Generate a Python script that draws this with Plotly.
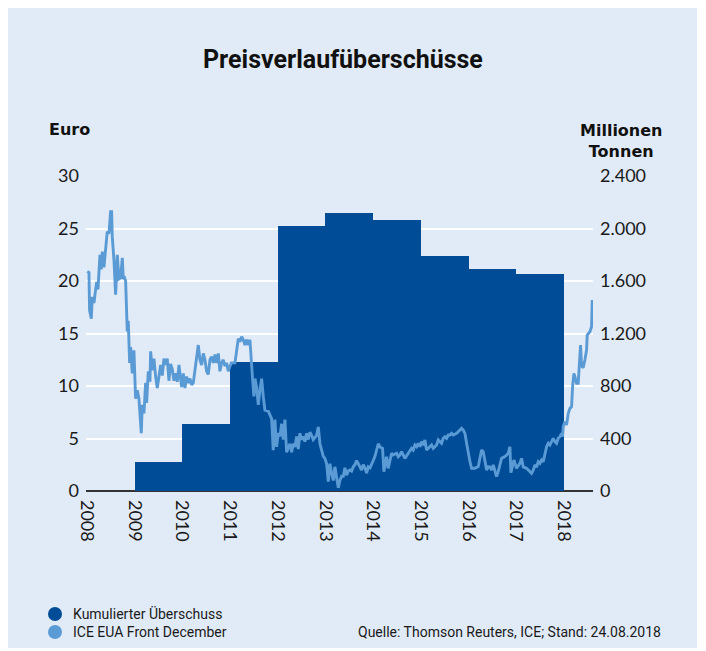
import plotly.graph_objects as go

# ---------------- data ----------------
bar_years = [2009, 2010, 2011, 2012, 2013, 2014, 2015, 2016, 2017]
bar_values = [220, 510, 980, 2020, 2120, 2065, 1790, 1690, 1655]  # Mio. t

price_t = [
    2008.007, 2008.042, 2008.055, 2008.091, 2008.112, 2008.147, 2008.182, 2008.203, 2008.231, 2008.252,
    2008.273, 2008.300, 2008.321, 2008.356, 2008.391, 2008.426, 2008.461, 2008.496, 2008.517, 2008.531,
    2008.566, 2008.601, 2008.636, 2008.671, 2008.706, 2008.741, 2008.762, 2008.790, 2008.811, 2008.832,
    2008.845, 2008.866, 2008.895, 2008.916, 2008.950, 2008.985, 2009.020, 2009.055, 2009.090, 2009.139,
    2009.160, 2009.195, 2009.230, 2009.251, 2009.286, 2009.321, 2009.335, 2009.370, 2009.405, 2009.440,
    2009.474, 2009.510, 2009.544, 2009.580, 2009.614, 2009.649, 2009.684, 2009.719, 2009.754, 2009.789,
    2009.824, 2009.859, 2009.894, 2009.929, 2009.950, 2009.985, 2010.020, 2010.055, 2010.090, 2010.125,
    2010.160, 2010.195, 2010.229, 2010.264, 2010.299, 2010.334, 2010.369, 2010.404, 2010.439, 2010.474,
    2010.509, 2010.544, 2010.579, 2010.614, 2010.649, 2010.684, 2010.719, 2010.754, 2010.788, 2010.823,
    2010.858, 2010.893, 2010.928, 2010.963, 2010.998, 2011.033, 2011.103, 2011.138, 2011.173, 2011.208,
    2011.243, 2011.278, 2011.313, 2011.347, 2011.382, 2011.417, 2011.438, 2011.473, 2011.501, 2011.522,
    2011.557, 2011.592, 2011.627, 2011.662, 2011.697, 2011.732, 2011.802, 2011.836, 2011.871, 2011.906,
    2011.941, 2011.976, 2012.011, 2012.046, 2012.081, 2012.116, 2012.151, 2012.186, 2012.221, 2012.256,
    2012.291, 2012.326, 2012.361, 2012.396, 2012.431, 2012.465, 2012.500, 2012.535, 2012.570, 2012.605,
    2012.640, 2012.675, 2012.710, 2012.745, 2012.815, 2012.850, 2012.885, 2012.920, 2012.955, 2012.990,
    2013.025, 2013.060, 2013.094, 2013.129, 2013.164, 2013.199, 2013.234, 2013.269, 2013.304, 2013.339,
    2013.374, 2013.409, 2013.444, 2013.479, 2013.514, 2013.549, 2013.584, 2013.619, 2013.654, 2013.689,
    2013.723, 2013.758, 2013.793, 2013.828, 2013.863, 2013.898, 2013.933, 2013.968, 2014.003, 2014.038,
    2014.073, 2014.108, 2014.143, 2014.198, 2014.226, 2014.282, 2014.317, 2014.387, 2014.422, 2014.492,
    2014.527, 2014.562, 2014.597, 2014.632, 2014.667, 2014.737, 2014.806, 2014.841, 2014.876, 2014.911,
    2014.946, 2014.981, 2015.016, 2015.051, 2015.086, 2015.121, 2015.156, 2015.191, 2015.226, 2015.261,
    2015.331, 2015.365, 2015.400, 2015.435, 2015.470, 2015.505, 2015.540, 2015.575, 2015.610, 2015.645,
    2015.680, 2015.750, 2015.785, 2015.820, 2015.855, 2015.890, 2015.925, 2015.960, 2015.995, 2016.030,
    2016.064, 2016.134, 2016.204, 2016.239, 2016.274, 2016.309, 2016.344, 2016.379, 2016.414, 2016.449,
    2016.484, 2016.519, 2016.588, 2016.623, 2016.693, 2016.763, 2016.833, 2016.868, 2016.889, 2016.924,
    2016.952, 2017.008, 2017.077, 2017.112, 2017.147, 2017.217, 2017.287, 2017.322, 2017.357, 2017.392,
    2017.427, 2017.462, 2017.497, 2017.532, 2017.567, 2017.602, 2017.637, 2017.672, 2017.706, 2017.741,
    2017.776, 2017.811, 2017.846, 2017.881, 2017.916, 2017.951, 2017.972, 2017.986, 2018.021, 2018.056,
    2018.091, 2018.126, 2018.161, 2018.182, 2018.210, 2018.231, 2018.266, 2018.300, 2018.335, 2018.349,
    2018.370, 2018.405, 2018.440, 2018.475, 2018.489, 2018.545, 2018.580, 2018.594,
]
price_eur = [
    20.9, 20.8, 17.2, 16.4, 18.5, 17.9, 19.2, 19.9, 19.2, 20.7,
    22.5, 21.1, 22.8, 21.3, 23.0, 24.7, 24.5, 26.6, 26.6, 24.2,
    22.0, 18.7, 22.5, 20.2, 20.3, 22.2, 20.2, 20.3, 20.0, 16.6,
    15.2, 16.2, 12.2, 13.7, 11.2, 13.4, 8.8, 9.6, 8.8, 5.5,
    8.2, 7.4, 10.3, 8.4, 11.4, 10.4, 13.3, 11.5, 12.6, 10.9,
    9.8, 10.9, 12.0, 11.0, 12.6, 12.0, 12.6, 10.5, 12.1, 11.6,
    10.5, 11.2, 10.4, 12.0, 11.05, 9.9, 11.2, 9.8, 10.9, 10.3,
    10.7, 10.1, 10.3, 11.5, 12.8, 13.9, 12.5, 12.0, 13.1, 12.5,
    11.4, 11.1, 12.5, 12.8, 12.2, 13.0, 12.2, 13.1, 11.4, 12.2,
    12.5, 11.9, 12.2, 11.4, 11.9, 12.2, 12.2, 13.4, 14.5, 14.2,
    14.7, 14.4, 13.9, 14.4, 13.9, 14.4, 12.5, 10.6, 9.0, 10.7,
    9.9, 8.2, 9.6, 10.7, 9.0, 7.7, 7.6, 7.3, 6.9, 3.9,
    6.8, 4.2, 5.5, 5.2, 6.4, 4.9, 6.8, 3.7, 4.2, 4.5,
    3.7, 4.5, 4.2, 5.2, 4.0, 5.5, 4.9, 5.2, 4.7, 5.5,
    4.9, 5.6, 5.3, 4.9, 5.3, 6.1, 4.5, 4.0, 3.3, 3.1,
    2.6, 0.9, 2.6, 1.7, 1.0, 2.3, 1.4, 0.3, 1.0, 1.4,
    1.4, 2.2, 1.5, 1.9, 2.0, 1.9, 2.3, 2.5, 2.9, 2.6,
    2.3, 2.0, 2.5, 2.2, 1.7, 2.3, 2.2, 2.5, 2.9, 3.3,
    4.0, 4.5, 4.2, 4.06, 1.84, 3.27, 2.16, 3.59, 3.43, 3.59,
    3.27, 3.43, 3.75, 3.43, 3.11, 3.59, 4.06, 3.9, 4.38, 4.22,
    4.54, 4.22, 4.70, 4.38, 4.86, 3.9, 4.06, 4.22, 4.38, 4.06,
    4.38, 4.86, 4.70, 4.54, 5.02, 5.17, 5.02, 5.33, 5.33, 5.49,
    5.33, 5.49, 5.65, 5.81, 5.97, 5.81, 5.49, 4.54, 3.59, 2.79,
    2.16, 2.16, 2.32, 3.27, 3.90, 3.75, 2.95, 2.00, 2.32, 2.29,
    1.99, 2.48, 1.37, 1.84, 3.11, 3.27, 3.59, 4.22, 1.75, 2.63,
    2.95, 2.16, 2.63, 3.11, 2.29, 2.16, 1.84, 1.68, 1.99, 2.48,
    2.29, 2.79, 2.63, 2.95, 2.79, 3.59, 4.22, 4.54, 4.38, 4.70,
    5.02, 4.70, 4.54, 5.02, 5.17, 5.49, 5.17, 6.13, 6.60, 6.29,
    7.40, 7.87, 8.03, 9.94, 11.21, 10.89, 10.25, 10.25, 12.79, 13.90,
    11.90, 11.75, 12.48, 13.43, 14.86, 15.17, 15.65, 18.19,
]

year_ticks = list(range(2008, 2019))
left_ticks = [0, 5, 10, 15, 20, 25, 30]
right_ticks = [0, 400, 800, 1200, 1600, 2000, 2400]

# ---------------- style ----------------
PANEL = "#E1EBF7"
DARK = "#004C97"
LIGHT = "#5B9BD5"
TXT = "#1a1a1a"
FONT = "Roboto, 'Liberation Sans', sans-serif"
TICKFONT = "Lato, 'DejaVu Sans', sans-serif"
HEADFONT = "'DejaVu Sans', sans-serif"

W, H = 689, 640
L, R, T, B = 78, 104, 168, 157
pw, ph = W - L - R, H - T - B
OFF = 8  # page margin of the html body


def px(xs):
    return (xs - OFF - L) / pw


def py(ys):
    return (H - B - (ys - OFF)) / ph


fig = go.Figure()
fig.add_trace(go.Bar(
    x=[y + 0.5 for y in bar_years], y=bar_values, width=1,
    marker=dict(color=DARK, line=dict(width=0)),
    name="Kumulierter Überschuss", yaxis="y", showlegend=False,
))
fig.add_trace(go.Scatter(
    x=price_t, y=price_eur, mode="lines",
    line=dict(color=LIGHT, width=2.9),
    name="ICE EUA Front December", yaxis="y2", showlegend=False,
))

shapes = []
for cy, col in [(614, DARK), (632, LIGHT)]:
    shapes.append(dict(type="circle", xref="paper", yref="paper",
                       x0=px(48), x1=px(62), y0=py(cy + 7), y1=py(cy - 7),
                       fillcolor=col, line=dict(width=0)))

annotations = [
    dict(text="<b>Preisverlaufüberschüsse</b>", x=px(343), y=py(60), xref="paper", yref="paper",
         showarrow=False, xanchor="center", yanchor="middle",
         font=dict(size=25, color="#111", family=FONT)),
    dict(text="<b>Euro</b>", x=px(47), y=py(129), xref="paper", yref="paper",
         showarrow=False, xanchor="left", yanchor="middle",
         font=dict(size=16, color="#111", family=HEADFONT)),
    dict(text="<b>Millionen<br>Tonnen</b>", x=px(621), y=py(141), xref="paper", yref="paper",
         showarrow=False, xanchor="center", yanchor="middle", align="center",
         font=dict(size=16, color="#111", family=HEADFONT)),
    dict(text="Kumulierter Überschuss", x=px(71), y=py(614), xref="paper", yref="paper",
         showarrow=False, xanchor="left", yanchor="middle", font=dict(size=14, color=TXT)),
    dict(text="ICE EUA Front December", x=px(71), y=py(632), xref="paper", yref="paper",
         showarrow=False, xanchor="left", yanchor="middle", font=dict(size=14, color=TXT)),
    dict(text="Quelle: Thomson Reuters, ICE; Stand: 24.08.2018", x=px(663), y=py(632),
         xref="paper", yref="paper", showarrow=False, xanchor="right", yanchor="middle",
         font=dict(size=14, color=TXT)),
]

fig.update_layout(
    width=W, height=H,
    margin=dict(l=L, r=R, t=T, b=B, pad=0),
    paper_bgcolor=PANEL, plot_bgcolor=PANEL,
    font=dict(family=FONT, color=TXT),
    separators=",.",
    showlegend=False,
    shapes=shapes, annotations=annotations,
    xaxis=dict(range=[2007.98, 2018.61], tickvals=year_ticks, ticktext=[str(y) for y in year_ticks],
               tickangle=90, showgrid=False, zeroline=False, ticks="", showline=False,
               tickfont=dict(size=18, color=TXT, family=TICKFONT), ticklabelstandoff=8),
    yaxis=dict(range=[0, 2400], side="right", tickvals=right_ticks, tickformat=",d",
               showgrid=True, gridcolor="white", gridwidth=2,
               zeroline=True, zerolinecolor="#333333", zerolinewidth=1.5,
               ticks="", tickfont=dict(size=18, color=TXT, family=TICKFONT), ticklabelstandoff=6),
    yaxis2=dict(range=[0, 30], side="left", overlaying="y", tickvals=left_ticks,
                showgrid=False, zeroline=False, ticks="",
                tickfont=dict(size=18, color=TXT, family=TICKFONT), ticklabelstandoff=6),
    bargap=0,
)

fig.write_html("out.html")
